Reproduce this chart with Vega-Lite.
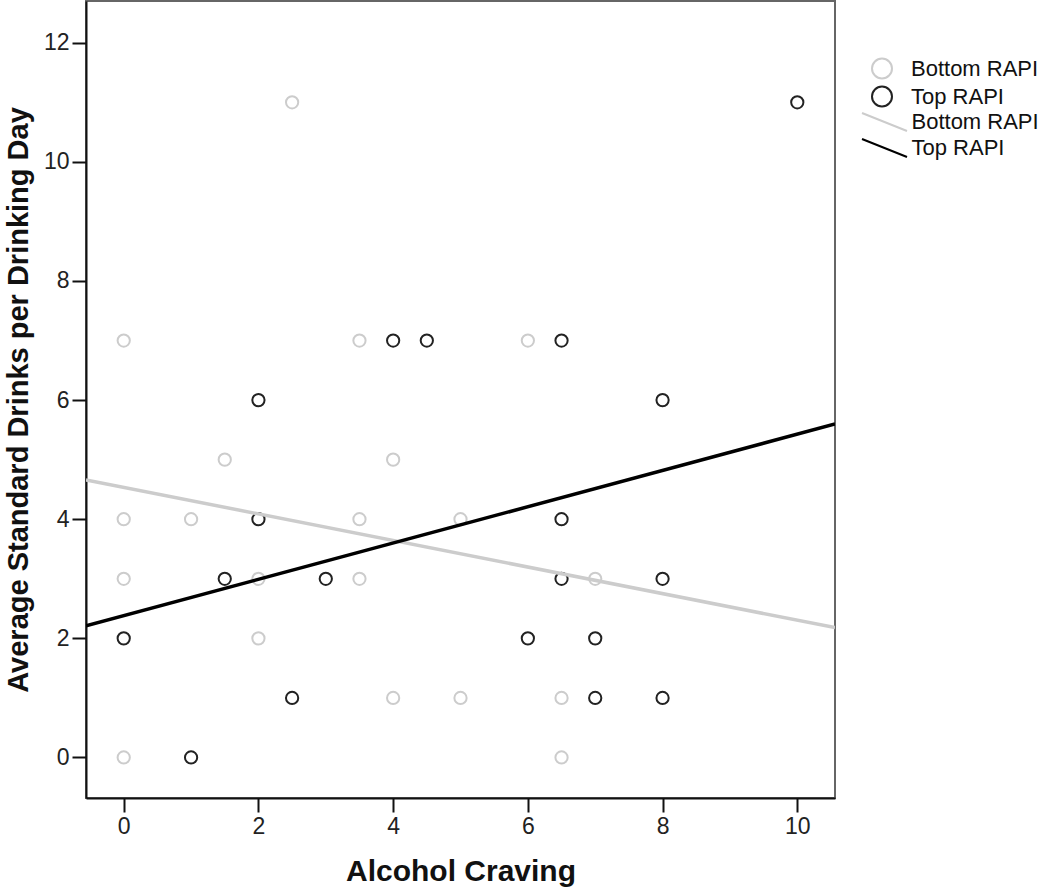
{
  "$schema": "https://vega.github.io/schema/vega-lite/v6.json",
  "autosize": {"type": "none"},
  "width": 749,
  "height": 797,
  "padding": {"left": 86, "top": 1, "right": 215, "bottom": 90},
  "background": "white",
  "config": {
    "font": "Liberation Sans",
    "view": {"stroke": "#666", "strokeWidth": 2},
    "axis": {
      "grid": false,
      "domainColor": "#111",
      "domainWidth": 2,
      "tickColor": "#111",
      "tickWidth": 2,
      "tickSize": 14,
      "labelFontSize": 23,
      "labelColor": "#222",
      "labelPadding": 3,
      "format": "d",
      "titleFontSize": 30,
      "titleFontWeight": "bold",
      "titleColor": "#111"
    },
    "legend": {
      "labelFontSize": 22,
      "labelColor": "#111"
    }
  },
  "datasets": {
    "points": [
      {"craving": 0, "drinks": 7, "group": "Bottom RAPI"},
      {"craving": 0, "drinks": 4, "group": "Bottom RAPI"},
      {"craving": 0, "drinks": 3, "group": "Bottom RAPI"},
      {"craving": 0, "drinks": 0, "group": "Bottom RAPI"},
      {"craving": 1, "drinks": 4, "group": "Bottom RAPI"},
      {"craving": 1.5, "drinks": 5, "group": "Bottom RAPI"},
      {"craving": 2, "drinks": 3, "group": "Bottom RAPI"},
      {"craving": 2, "drinks": 2, "group": "Bottom RAPI"},
      {"craving": 2.5, "drinks": 11, "group": "Bottom RAPI"},
      {"craving": 3.5, "drinks": 7, "group": "Bottom RAPI"},
      {"craving": 3.5, "drinks": 4, "group": "Bottom RAPI"},
      {"craving": 3.5, "drinks": 3, "group": "Bottom RAPI"},
      {"craving": 4, "drinks": 5, "group": "Bottom RAPI"},
      {"craving": 4, "drinks": 1, "group": "Bottom RAPI"},
      {"craving": 5, "drinks": 4, "group": "Bottom RAPI"},
      {"craving": 5, "drinks": 1, "group": "Bottom RAPI"},
      {"craving": 6, "drinks": 7, "group": "Bottom RAPI"},
      {"craving": 6.5, "drinks": 1, "group": "Bottom RAPI"},
      {"craving": 6.5, "drinks": 0, "group": "Bottom RAPI"},
      {"craving": 7, "drinks": 3, "group": "Bottom RAPI"},
      {"craving": 0, "drinks": 2, "group": "Top RAPI"},
      {"craving": 1, "drinks": 0, "group": "Top RAPI"},
      {"craving": 1.5, "drinks": 3, "group": "Top RAPI"},
      {"craving": 2, "drinks": 6, "group": "Top RAPI"},
      {"craving": 2, "drinks": 4, "group": "Top RAPI"},
      {"craving": 2.5, "drinks": 1, "group": "Top RAPI"},
      {"craving": 3, "drinks": 3, "group": "Top RAPI"},
      {"craving": 4, "drinks": 7, "group": "Top RAPI"},
      {"craving": 4.5, "drinks": 7, "group": "Top RAPI"},
      {"craving": 6, "drinks": 2, "group": "Top RAPI"},
      {"craving": 6.5, "drinks": 7, "group": "Top RAPI"},
      {"craving": 6.5, "drinks": 4, "group": "Top RAPI"},
      {"craving": 6.5, "drinks": 3, "group": "Top RAPI"},
      {"craving": 7, "drinks": 2, "group": "Top RAPI"},
      {"craving": 7, "drinks": 1, "group": "Top RAPI"},
      {"craving": 8, "drinks": 6, "group": "Top RAPI"},
      {"craving": 8, "drinks": 3, "group": "Top RAPI"},
      {"craving": 8, "drinks": 1, "group": "Top RAPI"},
      {"craving": 10, "drinks": 11, "group": "Top RAPI"}
    ],
    "lines": [
      {"craving": -0.56, "drinks": 4.66, "fit": "Bottom RAPI"},
      {"craving": 10.56, "drinks": 2.18, "fit": "Bottom RAPI"},
      {"craving": -0.56, "drinks": 2.21, "fit": "Top RAPI"},
      {"craving": 10.56, "drinks": 5.6, "fit": "Top RAPI"}
    ]
  },
  "layer": [
    {
      "data": {"name": "points"},
      "mark": {"type": "point", "shape": "circle", "filled": false, "size": 150, "strokeWidth": 2, "opacity": 1},
      "encoding": {
        "x": {
          "field": "craving", "type": "quantitative",
          "scale": {"domain": [-0.56, 10.56], "nice": false, "zero": false},
          "axis": {"values": [0, 2, 4, 6, 8, 10], "title": "Alcohol Craving", "titlePadding": 18}
        },
        "y": {
          "field": "drinks", "type": "quantitative",
          "scale": {"domain": [-0.68, 12.7], "nice": false, "zero": false},
          "axis": {"values": [0, 2, 4, 6, 8, 10, 12], "title": "Average Standard Drinks per Drinking Day", "titlePadding": 10, "titleFontSize": 29}
        },
        "stroke": {
          "field": "group", "type": "nominal",
          "scale": {"domain": ["Bottom RAPI", "Top RAPI"], "range": ["#cccccc", "#222222"]},
          "legend": {"title": null, "orient": "none", "legendX": 785, "legendY": 56.5, "symbolSize": 400, "symbolStrokeWidth": 2, "symbolType": "circle", "symbolFillColor": "transparent", "labelOffset": 18, "rowPadding": 0}
        }
      }
    },
    {
      "data": {"name": "lines"},
      "mark": {"type": "line", "strokeWidth": 3.5, "clip": true},
      "encoding": {
        "x": {"field": "craving", "type": "quantitative"},
        "y": {"field": "drinks", "type": "quantitative"},
        "detail": {"field": "fit"},
        "stroke": {
          "field": "fit", "type": "nominal",
          "scale": {"domain": ["Bottom RAPI", "Top RAPI"], "range": ["#cccccc", "#000000"]},
          "legend": {"title": null, "orient": "none", "legendX": 787.5, "legendY": 110, "symbolType": "M-2.5,-1L2.5,1", "symbolSize": 324, "symbolStrokeWidth": 2, "labelOffset": 16, "rowPadding": 0}
        }
      }
    }
  ],
  "resolve": {"scale": {"stroke": "independent"}, "legend": {"stroke": "independent"}}
}
